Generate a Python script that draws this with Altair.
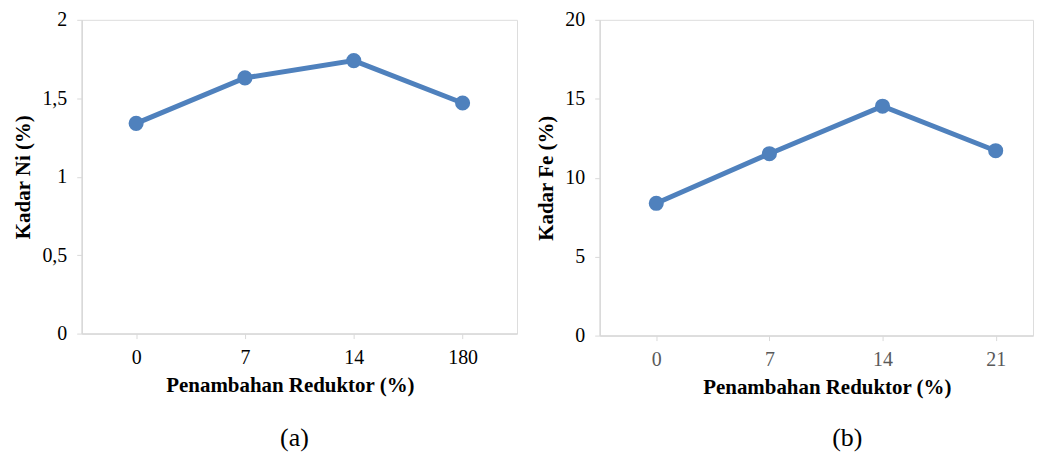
import json
import altair as alt
import pandas as pd

# ---- data ----
reduktor_a = ["0", "7", "14", "180"]
kadar_ni = [1.34, 1.63, 1.74, 1.47]
reduktor_b = ["0", "7", "14", "21"]
kadar_fe = [8.38, 11.52, 14.53, 11.71]
ni_ticks = [0, 0.5, 1, 1.5, 2]
fe_ticks = [0, 5, 10, 15, 20]

BLUE = "#4F81BD"
AXIS_GRAY = "#D9D9D9"
FONT = "Liberation Serif"


def panel(labels, values, yticks, ytitle, sub, xmax, width, height,
          xlabel_color, xtitle_x, sub_dx, sub_offset):
    df = pd.DataFrame({"idx": list(range(len(labels))), "label": labels, "val": values})
    label_expr = json.dumps(labels) + "[datum.value]"
    base = alt.Chart(df).encode(
        x=alt.X(
            "idx:Q",
            scale=alt.Scale(domain=[-0.5, xmax], nice=False, zero=False),
            axis=alt.Axis(
                values=list(range(len(labels))),
                labelExpr=label_expr,
                title="Penambahan Reduktor (%)",
                grid=False,
                domainColor=AXIS_GRAY,
                domainWidth=1.5,
                tickColor=AXIS_GRAY,
                tickSize=5,
                labelPadding=9,
                labelFont=FONT,
                labelFontSize=20,
                labelColor=xlabel_color,
                titleFont=FONT,
                titleFontSize=21,
                titleFontWeight="bold",
                titleColor="black",
                titlePadding=7,
                titleX=xtitle_x,
                titleAlign="center",
            ),
        ),
        y=alt.Y(
            "val:Q",
            scale=alt.Scale(domain=[yticks[0], yticks[-1]], nice=False),
            axis=alt.Axis(
                values=yticks,
                labelExpr="replace(toString(datum.value), '.', ',')",
                title=ytitle,
                grid=False,
                domainColor=AXIS_GRAY,
                domainWidth=1.5,
                tickColor=AXIS_GRAY,
                tickSize=5,
                labelPadding=10,
                labelFont=FONT,
                labelFontSize=20,
                labelColor="black",
                titleFont=FONT,
                titleFontSize=21,
                titleFontWeight="bold",
                titleColor="black",
                titlePadding=8,
            ),
        ),
    )
    line = base.mark_line(color=BLUE, strokeWidth=5)
    pts = base.mark_point(filled=True, size=230, opacity=1, color=BLUE)
    return alt.layer(line, pts).properties(
        width=width,
        height=height,
        title=alt.TitleParams(
            sub, orient="bottom", font=FONT, fontSize=26, fontWeight="normal",
            color="black", offset=sub_offset, dx=sub_dx, anchor="middle",
        ),
    )


left = panel(reduktor_a, kadar_ni, ni_ticks, "Kadar Ni (%)", "(a)",
             3.5, 437, 315, "black", 209, -5, 30)
right = panel(reduktor_b, kadar_fe, fe_ticks, "Kadar Fe (%)", "(b)",
              3.33, 435, 317, "#595959", 228, 31, 28)

chart = alt.hconcat(left, right, spacing=17).properties(
    padding={"left": 4, "top": 0, "right": 0, "bottom": 0}
).configure_view(stroke=None).configure(background="white")

chart.save("out.html", embed_options={"renderer": "svg", "actions": False})
